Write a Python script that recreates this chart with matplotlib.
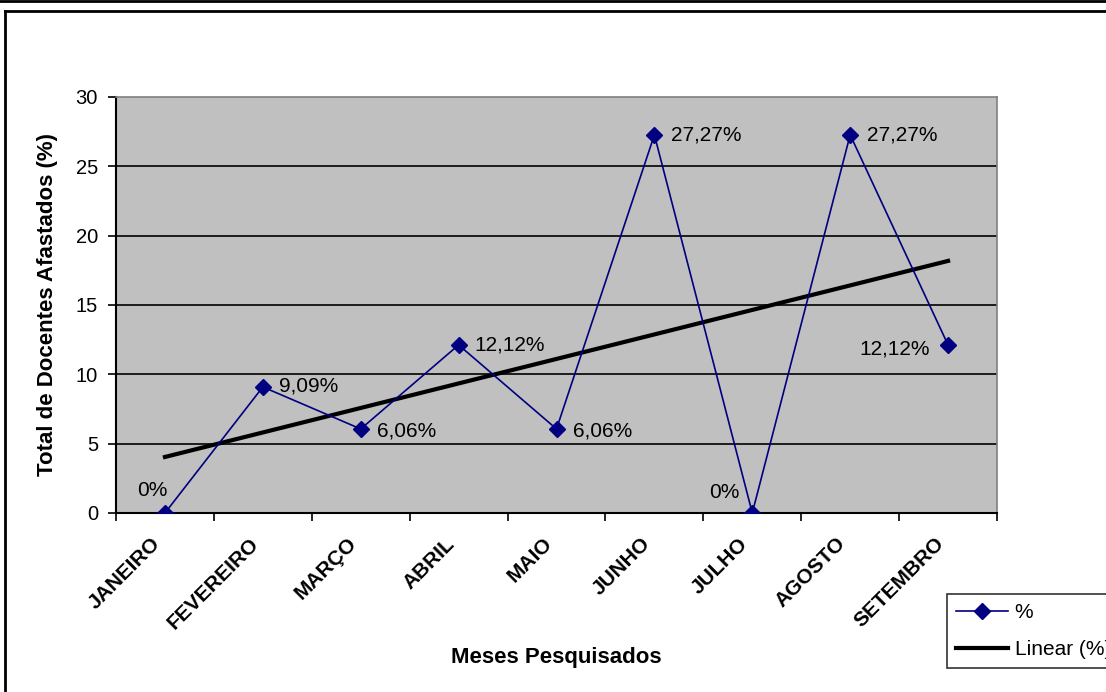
import matplotlib
matplotlib.use("Agg")
import matplotlib.pyplot as plt
import numpy as np
from matplotlib.lines import Line2D
from matplotlib.transforms import ScaledTranslation

meses = ["JANEIRO", "FEVEREIRO", "MARÇO", "ABRIL", "MAIO", "JUNHO", "JULHO", "AGOSTO", "SETEMBRO"]
valores = [0, 9.09, 6.06, 12.12, 6.06, 27.27, 0, 27.27, 12.12]
rotulos = ["0%", "9,09%", "6,06%", "12,12%", "6,06%", "27,27%", "0%", "27,27%", "12,12%"]
yticks = [0, 5, 10, 15, 20, 25, 30]

plt.rcParams['font.family'] = ['Liberation Sans', 'DejaVu Sans']

fig = plt.figure(figsize=(11.06, 6.92), dpi=100)
ax = fig.add_axes([116/1106, 1-513/692, (997-116)/1106, (513-97)/692])
ax.set_facecolor('#C0C0C0')

x = np.arange(1, len(meses) + 1)
ax.plot(x, valores, color='#000080', lw=1.2, marker='D', ms=8.5, mfc='#000080', mec='#000080', zorder=4, label='%')
coef = np.polyfit(x, valores, 1)
ax.plot([x[0], x[-1]], np.polyval(coef, [x[0], x[-1]]), color='black', lw=3, zorder=3, label='Linear (%)')

ax.set_xlim(0.5, len(meses) + 0.5)
ax.set_ylim(0, 30)
ax.set_yticks(yticks)
ax.set_yticklabels([str(v) for v in yticks], fontsize=14.5)
for v in yticks[1:-1]:
    ax.axhline(v, color='black', lw=1.2, zorder=1)

ax.set_xticks(np.arange(0.5, len(meses) + 1, 1.0))
ax.set_xticklabels([])
ax.tick_params(axis='x', which='major', length=6, direction='out', width=1.2)
ax.tick_params(axis='y', length=6, direction='out', width=1.2, pad=7)

# category labels (rotated), placed below each category centre
lab_tr = ax.get_xaxis_transform() + ScaledTranslation(-14/100, -21/100, fig.dpi_scale_trans)
for xi, m in zip(x, meses):
    ax.text(xi, 0, m, transform=lab_tr, rotation=45, ha='right', va='top', rotation_mode='anchor',
            fontsize=15, fontweight='bold', clip_on=False)

for s in ['left', 'bottom']:
    ax.spines[s].set_color('black')
    ax.spines[s].set_linewidth(1.5)
for s in ['top', 'right']:
    ax.spines[s].set_color('#808080')
    ax.spines[s].set_linewidth(1.2)

# offsets in pixels (dx, dy) and alignment
offsets = [(3, 23, 'right'), (16, 1, 'left'), (16, -2, 'left'), (16, 0, 'left'), (16, -2, 'left'),
           (17, 0, 'left'), (-13, 20, 'right'), (17, 0, 'left'), (-18, -4, 'right')]
for xi, v, r, (dx, dy, ha) in zip(x, valores, rotulos, offsets):
    ax.annotate(r, (xi, v), xytext=(dx * 0.72, dy * 0.72), textcoords='offset points',
                ha=ha, va='center', fontsize=15)

ax.set_ylabel('Total de Docentes Afastados (%)', fontsize=16, fontweight='bold')
ax.yaxis.set_label_coords((48 - 116) / 881, 0.5)
ax.set_xlabel('Meses Pesquisados', fontsize=16, fontweight='bold')
ax.xaxis.set_label_coords(0.5, (513 - 657) / 416)
ax.xaxis.label.set_va('center')
ax.yaxis.label.set_va('center')

leg = fig.legend(loc='upper left', bbox_to_anchor=(947/1106, 1-594/692), fontsize=15,
                 frameon=True, fancybox=False, edgecolor='black', borderpad=0.45,
                 handlelength=2.5, handletextpad=0.3, labelspacing=0.85, borderaxespad=0)
leg.get_frame().set_linewidth(1.2)

# figure borders
fig.add_artist(Line2D([0, 1], [1-1/692, 1-1/692], transform=fig.transFigure, color='black', lw=2))
fig.add_artist(Line2D([5/1106, 1], [1-11/692, 1-11/692], transform=fig.transFigure, color='black', lw=2))
fig.add_artist(Line2D([5/1106, 5/1106], [0, 1-11/692], transform=fig.transFigure, color='black', lw=2))

fig.savefig('out.png', dpi=100)
